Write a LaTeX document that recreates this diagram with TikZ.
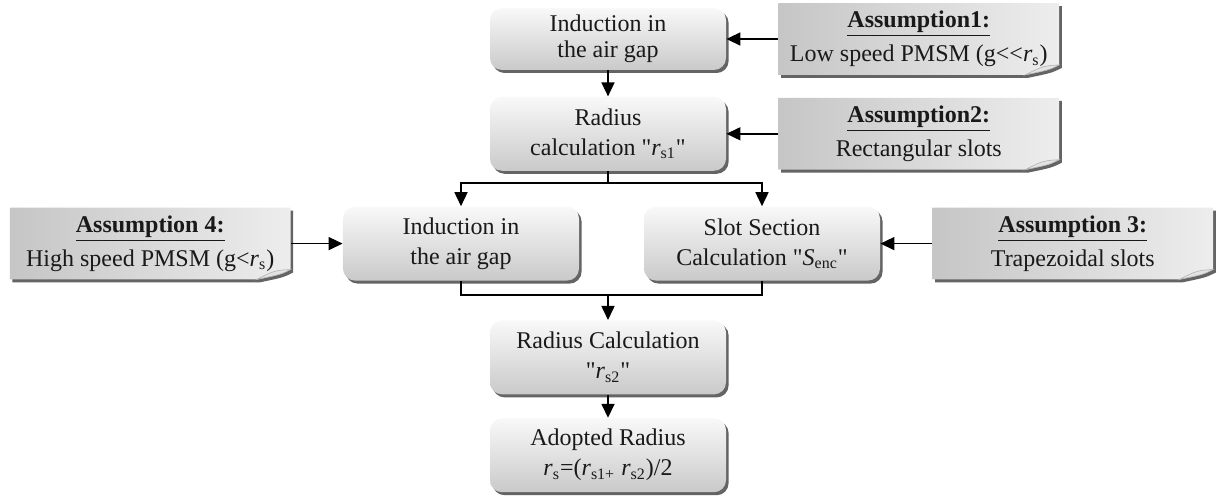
\documentclass[tikz,border=0pt]{standalone}
\usepackage{fontspec}
\setmainfont{Liberation Serif}[Ligatures=TeXOff]
\usetikzlibrary{arrows.meta,positioning,shadows,backgrounds}
\definecolor{boxText}{RGB}{25,25,25}
\definecolor{shadeDark}{RGB}{100,100,100}

\begin{document}
\begin{tikzpicture}[
  font=\fontsize{12}{15}\selectfont,
  stage/.style={rounded corners=6pt, minimum width=118pt, minimum height=37pt,
              top color=gray!5, bottom color=gray!42, align=center, text=boxText,
              drop shadow={shadow xshift=1.3pt, shadow yshift=-1.5pt, fill=shadeDark, opacity=1}},
  note/.style={minimum width=140pt, minimum height=35.5pt, align=center, text=boxText},
  notepath/.style={insert path={(#1.north west) -- (#1.north east) -- ([yshift=5pt]#1.south east)
      .. controls ([xshift=-5pt,yshift=2.5pt]#1.south east) .. ([xshift=-17pt]#1.south east)
      -- (#1.south west) -- cycle}},
  link/.style={line width=0.8pt, -{Triangle[length=7pt,width=6.5pt]}},
  wire/.style={line width=0.8pt}
]
  \useasboundingbox (-304pt,19.5pt) rectangle (305pt,-228.5pt);

  % main chain
  \node[stage, minimum height=31pt, font=\fontsize{12}{13}\selectfont] (ind1) {Induction in\\the air gap};
  \node[stage, below=13pt of ind1]           (rs1)  {Radius\\calculation "\textit{r}\textsubscript{s1}"};
  \node[stage, below=17.5pt of rs1, xshift=-73.5pt] (ind2) {Induction in\\the air gap};
  \node[stage, below=17.5pt of rs1, xshift=77pt]    (slot) {Slot Section\\Calculation "\textit{S}\textsubscript{enc}"};
  \coordinate (row3) at (rs1 |- ind2.south);
  \node[stage, below=19.5pt of row3]         (rs2)  {Radius Calculation\\"\textit{r}\textsubscript{s2}"};
  \node[stage, below=11.5pt of rs2]          (rad)  {Adopted Radius\\\textit{r}\textsubscript{s}=(\textit{r}\textsubscript{s1+} \textit{r}\textsubscript{s2})/2};

  % assumptions
  \node[note, right=26pt of ind1] (asm1) {\underline{\textbf{Assumption1:}}\\[2pt]Low speed PMSM (g<<\textit{r}\textsubscript{s})};
  \node[note, right=26pt of rs1]  (asm2) {\underline{\textbf{Assumption2:}}\\[2pt]Rectangular slots};
  \node[note, right=26pt of slot] (asm3) {\underline{\textbf{Assumption 3:}}\\[2pt]Trapezoidal slots};
  \node[note, left=26pt of ind2]  (asm4) {\underline{\textbf{Assumption 4:}}\\[2pt]High speed PMSM (g<\textit{r}\textsubscript{s})};

  % curled notes behind the text
  \begin{scope}[on background layer]
    \foreach \n in {asm1,asm2,asm3,asm4} {
      \fill[shadeDark, transform canvas={shift={(1.3pt,-1.5pt)}}] [notepath=\n];
      \path[left color=gray!45, right color=gray!14] [notepath=\n];
      \filldraw[fill=gray!22, draw=gray!60, line width=0.3pt]
        ([xshift=-17pt]\n.south east) .. controls ([xshift=-8pt,yshift=4.5pt]\n.south east)
        .. ([yshift=5pt]\n.south east) .. controls ([xshift=-5pt,yshift=2.5pt]\n.south east)
        .. cycle;
    }
  \end{scope}

  % arrows
  \draw[link] (asm1) -- (ind1);
  \draw[link] (asm2) -- (rs1);
  \draw[link] (asm3) -- (slot);
  \draw[link] (asm4) -- (ind2);
  \draw[link] (ind1) -- (rs1);

  % split and join
  \coordinate[below=6pt of rs1.south] (split);
  \draw[wire] (rs1) -- (split);
  \draw[link] (split) -| (ind2);
  \draw[link] (split) -| (slot);
  \coordinate[below=7pt of row3] (join);
  \draw[wire] (ind2) |- (join) -| (slot);
  \draw[link] (join) -- (rs2);
  \draw[link] (rs2) -- (rad);
\end{tikzpicture}
\end{document}
